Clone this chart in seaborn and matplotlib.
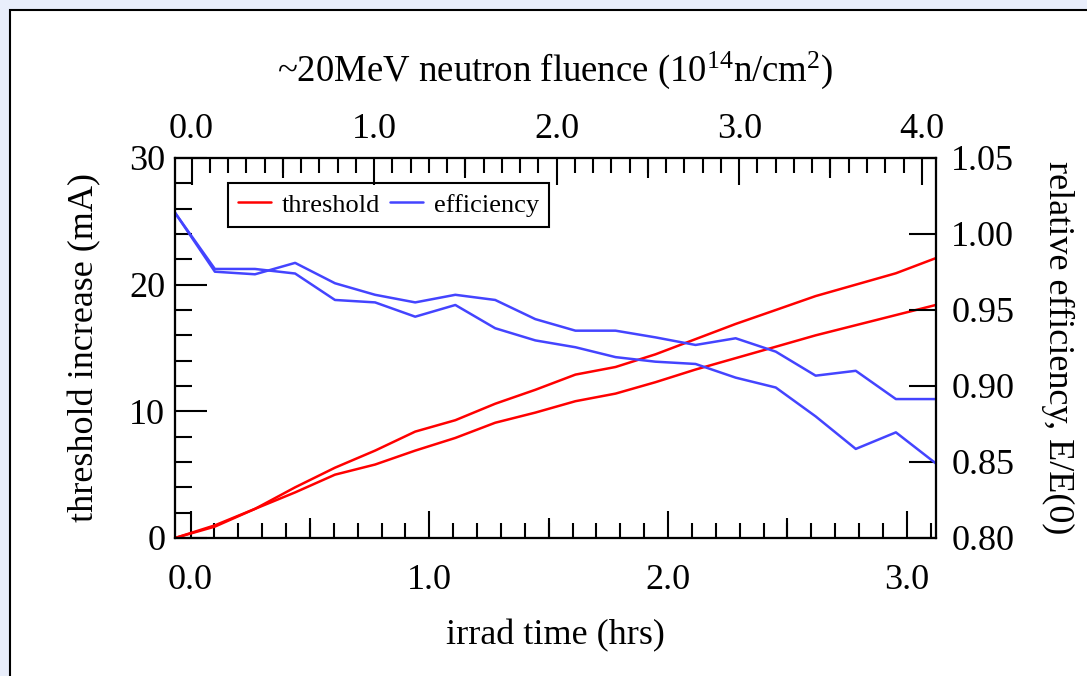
import matplotlib
matplotlib.use("Agg")
import matplotlib.pyplot as plt
import seaborn as sns
import pandas as pd
from matplotlib.ticker import MultipleLocator, FixedLocator, FormatStrFormatter, NullFormatter
from matplotlib.patches import Rectangle

# ---------------- data ----------------
time_hrs = [-0.065, 0.102, 0.270, 0.438, 0.605, 0.773, 0.941, 1.109, 1.276, 1.444,
            1.612, 1.780, 1.947, 2.115, 2.283, 2.451, 2.618, 2.786, 2.954, 3.122]
threshold_a = [0.0, 1.0, 2.3, 4.0, 5.55, 6.9, 8.4, 9.3, 10.6, 11.7,
               12.9, 13.5, 14.5, 15.7, 16.9, 18.0, 19.1, 20.0, 20.9, 22.1]
threshold_b = [0.0, 0.9, 2.3, 3.6, 5.0, 5.8, 6.9, 7.9, 9.1, 9.9,
               10.8, 11.4, 12.3, 13.3, 14.2, 15.1, 16.0, 16.8, 17.6, 18.4]
efficiency_a = [1.014, 0.9752, 0.9735, 0.981, 0.9676, 0.960, 0.955, 0.960, 0.9566, 0.944,
                0.9364, 0.9364, 0.932, 0.927, 0.9314, 0.9226, 0.9068, 0.910, 0.8914, 0.8914]
efficiency_b = [1.014, 0.977, 0.977, 0.974, 0.9566, 0.955, 0.9456, 0.9533, 0.938, 0.930,
                0.9255, 0.919, 0.916, 0.9145, 0.9055, 0.899, 0.880, 0.8586, 0.8695, 0.849]

bottom_ticks = [0.0, 1.0, 2.0, 3.0]
top_ticks = [0.0, 1.0, 2.0, 3.0, 4.0]
left_ticks = [0, 10, 20, 30]
right_ticks = [0.80, 0.85, 0.90, 0.95, 1.00, 1.05]

title_top = "~20MeV neutron fluence (10$^{14}$n/cm$^{2}$)"
xlabel = "irrad time (hrs)"
ylabel_left = "threshold increase (mA)"
ylabel_right = "relative efficiency, E/E(0)"

# ---------------- style ----------------
sns.set_style("ticks")
plt.rcParams["font.family"] = ["Liberation Serif", "DejaVu Serif"]
plt.rcParams["mathtext.fontset"] = "custom"
plt.rcParams["mathtext.rm"] = "Liberation Serif"
plt.rcParams["mathtext.default"] = "regular"
plt.rcParams["text.color"] = "black"
plt.rcParams["axes.labelcolor"] = "black"
plt.rcParams["xtick.color"] = "black"
plt.rcParams["ytick.color"] = "black"

RED = "#ff0000"
BLUE = "#4444ff"
LW = 1.8
FS = 26
PX = 72 / 100.0  # points per pixel

W, H = 1087, 676
fig = plt.figure(figsize=(W / 100, H / 100), dpi=100, facecolor="#e9eefb")
fig.add_artist(Rectangle((9.5 / W, -0.2), 1.5, 1.2 - 9.5 / H, transform=fig.transFigure,
                         facecolor="white", edgecolor="black", linewidth=1.5, zorder=-5))

x0, x1, y0, y1 = 175, 936, 158, 538
ax = fig.add_axes([x0 / W, 1 - y1 / H, (x1 - x0) / W, (y1 - y0) / H])
ax.set_facecolor("none")
ax2 = ax.twinx()
ax3 = ax.twiny()

df = pd.DataFrame({"t": time_hrs, "ta": threshold_a, "tb": threshold_b,
                   "ea": efficiency_a, "eb": efficiency_b})

sns.lineplot(data=df, x="t", y="ta", ax=ax, color=RED, linewidth=LW, sort=False, label="threshold")
sns.lineplot(data=df, x="t", y="tb", ax=ax, color=RED, linewidth=LW, sort=False)
sns.lineplot(data=df, x="t", y="ea", ax=ax2, color=BLUE, linewidth=LW, sort=False, label="efficiency")
sns.lineplot(data=df, x="t", y="eb", ax=ax2, color=BLUE, linewidth=LW, sort=False)
for a in (ax, ax2):
    if a.get_legend() is not None:
        a.get_legend().remove()

ax.set_xlim(time_hrs[0], time_hrs[-1])
ax.set_ylim(0, 30)
ax2.set_ylim(0.80, 1.05)
ax3.set_xlim(-0.091, 4.078)

for a in (ax, ax2, ax3):
    for s in a.spines.values():
        s.set_linewidth(1.5)
        s.set_color("black")
        s.set_visible(True)

# bottom axis
ax.xaxis.set_major_locator(FixedLocator(bottom_ticks))
ax.xaxis.set_minor_locator(MultipleLocator(0.1))
ax.xaxis.set_major_formatter(FormatStrFormatter("%.1f"))
ax.tick_params(axis="x", which="major", direction="in", length=27 * PX, width=1.5,
               labelsize=FS, pad=19, top=False, bottom=True)
ax.tick_params(axis="x", which="minor", direction="in", length=15 * PX, width=1.5,
               top=False, bottom=True)
# left axis
ax.yaxis.set_major_locator(FixedLocator(left_ticks))
ax.yaxis.set_minor_locator(MultipleLocator(2))
ax.yaxis.set_major_formatter(FormatStrFormatter("%d"))
ax.tick_params(axis="y", which="major", direction="in", length=32 * PX, width=1.5,
               labelsize=FS, pad=7, right=False, left=True)
ax.tick_params(axis="y", which="minor", direction="in", length=17 * PX, width=1.5,
               right=False, left=True)
# right axis
ax2.yaxis.set_major_locator(FixedLocator(right_ticks))
ax2.yaxis.set_minor_locator(FixedLocator([]))
ax2.yaxis.set_major_formatter(FormatStrFormatter("%.2f"))
ax2.tick_params(axis="y", which="major", direction="in", length=27 * PX, width=1.5,
                labelsize=FS, pad=11)
# top axis
ax3.xaxis.set_major_locator(FixedLocator(top_ticks))
ax3.xaxis.set_minor_locator(MultipleLocator(0.1))
ax3.xaxis.set_major_formatter(FormatStrFormatter("%.1f"))
ax3.tick_params(axis="x", which="major", direction="in", length=27 * PX, width=1.5,
                labelsize=FS, pad=9)
ax3.tick_params(axis="x", which="minor", direction="in", length=15 * PX, width=1.5)

# medium ticks at the half units
sb = ax.secondary_xaxis("bottom")
sb.set_xticks([0.5, 1.5, 2.5])
sb.xaxis.set_major_formatter(NullFormatter())
sb.tick_params(axis="x", direction="in", length=20 * PX, width=1.5)
sb.spines["bottom"].set_visible(False)
st = ax3.secondary_xaxis("top")
st.set_xticks([0.5, 1.5, 2.5, 3.5])
st.xaxis.set_major_formatter(NullFormatter())
st.tick_params(axis="x", direction="in", length=20 * PX, width=1.5)
st.spines["top"].set_visible(False)

ax.set_xlabel(xlabel, fontsize=FS, labelpad=16)
ax.set_ylabel(ylabel_left, fontsize=FS, labelpad=20)
ax2.set_ylabel(ylabel_right, fontsize=FS, rotation=270, labelpad=43)
ax3.set_xlabel(title_top, fontsize=26.5, labelpad=23)

h1, l1 = ax.get_legend_handles_labels()
h2, l2 = ax2.get_legend_handles_labels()
leg = ax2.legend(h1[:1] + h2[:1], ["threshold", "efficiency"], loc="upper left",
                 bbox_to_anchor=(0.0696, 0.934), borderaxespad=0, ncol=2,
                 fontsize=19, frameon=True, fancybox=False, framealpha=1,
                 edgecolor="black", handlelength=1.25, handletextpad=0.42,
                 columnspacing=0.35, borderpad=0.38)
leg.get_frame().set_linewidth(1.5)

fig.savefig("out.png", dpi=100, facecolor=fig.get_facecolor())
